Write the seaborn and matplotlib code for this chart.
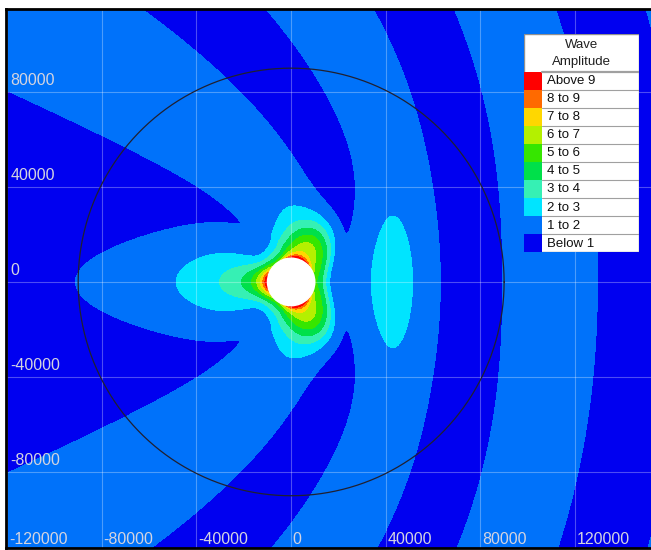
import numpy as np
import matplotlib.pyplot as plt
import seaborn as sns
from matplotlib.patches import Rectangle, Circle

sns.set_theme(style="white")
plt.rcParams["font.family"] = ["Liberation Sans", "DejaVu Sans"]

# amplitude classes, bottom to top
class_labels = ["Below 1", "1 to 2", "2 to 3", "3 to 4", "4 to 5",
                "5 to 6", "6 to 7", "7 to 8", "8 to 9", "Above 9"]
class_edges = [-100, 1, 2, 3, 4, 5, 6, 7, 8, 9, 1000]
class_colors = ["#0000f0", "#0072fa", "#00e4ff", "#36f0b4", "#00e04a",
                "#36e600", "#b4f000", "#ffd700", "#ff6a00", "#ff0000"]

x_ticks = [-120000, -80000, -40000, 0, 40000, 80000, 120000]
y_ticks = [-80000, -40000, 0, 40000, 80000]

island_radius = 10000
shoal_radius = 90000

# where the far-field band edges cross; index = edge number
edge_x = [-119800, -66500, -30900, -119800,
          -62200, -35100, 0, -45300,
          -9300, -1400,
          39800, 46000, 64400, 52000,
          72300, 77500, 85400,
          116100, 119600, 132800,
          143300]
edge_y = [85000, 59800, 40000, -86000,
          114500, 82100, 52600, -95000,
          110000, -95000,
          110000, -95000, 0, 60000,
          110000, -95000, 0,
          110000, -95000, 0,
          110000]
edge_k = [0, 0, 0, 0,
          1, 1, 1, 1,
          2, 2,
          3, 3, 3, 3,
          4, 4, 4,
          5, 5, 5,
          6]
band_contrast = 0.5
band_offset = 0.15

# bright spot in front of the island
spot_x, spot_amp, spot_wx, spot_wy = 37000, 1.0, 18000, 33000

# near field lobes: angle from +x axis (deg), strength, reach (km), sharpness, edge peak
lobe_angle = [0, 45, 90, 135, 180]
lobe_strength = [3.4, 4.6, 5.0, 1.2, 0.3]
lobe_reach = [5.2, 13.5, 12.5, 6.5, 3.0]
lobe_sharp = [2.5, 3.0, 1.6, 2.0, 2.0]
edge_peak = [0.5, 3.0, 4.0, 0.5, 0.0]

# long lobe behind the island
left_strength, left_reach = 4.26, 35200
left_spike, left_spike_reach = 5.5, 3500
left_width_near, left_width_far = 8500, 22500


def front_phase(x, y, b0, b1, b2, sq, sc):
    r = np.hypot(x, y)
    c = x / np.maximum(r, 1.0)
    h = (1 - c) / 2
    rho = r * (1 + sq * np.exp(-r / sc) * (1 + c) / 2)
    return rho * (c + b0 + b1 * h + b2 * h * h)


# fit the band phase to the edge crossings
ex, ey, ek = np.array(edge_x, float), np.array(edge_y, float), np.array(edge_k, float)
best = None
for b0 in np.linspace(0.2, 0.7, 11):
    for b1 in np.linspace(-0.3, 0.7, 11):
        for b2 in np.linspace(0.0, 1.0, 11):
            for sq in (0.3, 0.7, 1.1, 1.5, 2.0):
                for sc in (30000, 50000, 80000):
                    s = front_phase(ex, ey, b0, b1, b2, sq, sc) / 1e5
                    M = np.column_stack([s, s * s, np.ones_like(s)])
                    coef, *_ = np.linalg.lstsq(M, ek, rcond=None)
                    if coef[0] + 2 * coef[1] * 3.5 <= 0 or coef[0] - 0.6 * coef[1] <= 0:
                        continue
                    err = np.sum((M @ coef - ek) ** 2)
                    if best is None or err < best[0]:
                        best = (err, (b0, b1, b2, sq, sc), coef)
_, fit_par, fit_coef = best

xs = np.linspace(-123000, 155000, 834)
ys = np.linspace(-115000, 118000, 700)
X, Y = np.meshgrid(xs, ys)
R = np.hypot(X, Y)
C = X / np.maximum(R, 1.0)
phi = np.arccos(np.clip(C, -1, 1))
d = np.clip(R - island_radius, 0, None)

S = np.maximum(front_phase(X, Y, *fit_par) / 1e5, -0.3)
U = fit_coef[0] * S + fit_coef[1] * S * S + fit_coef[2]
# the dark band behind the island stays dark
U = np.where(U < 0, -0.5 * (1 - np.exp(np.minimum(U, 0) / 0.12)), U)
a = band_contrast * (1 - np.exp(-(R / 15000) ** 2))
F = 1 + a * (np.cos(np.pi * (U - 0.5)) + band_offset)
F += spot_amp * np.exp(-((X - spot_x) / spot_wx) ** 2 - (Y / spot_wy) ** 2)

# angular lobes from a cosine series through the anchors
basis = np.cos(np.outer(np.radians(lobe_angle), np.arange(5)))
ser = lambda vals: sum(ck * np.cos(k * phi)
                       for k, ck in enumerate(np.linalg.solve(basis, vals)))
B = np.clip(ser(lobe_strength), 0, None)
L = np.exp(ser(np.log(lobe_reach))) * 1000
p = np.clip(ser(lobe_sharp), 1.0, None)
E = np.clip(ser(edge_peak), 0, None)
F += B * np.exp(-(d / L) ** p) + E * np.exp(-d / 1500)

w = left_width_near + (left_width_far - left_width_near) * (1 - np.exp(-(d / 22000) ** 2))
side = 0.5 * (1 - np.tanh((X + 6000) / 3000))
F += (left_strength * np.exp(-d / left_reach)
      + left_spike * np.exp(-d / left_spike_reach)) * np.exp(-(Y / w) ** 2) * side

F = np.ma.masked_where(R < island_radius, F)

fig = plt.figure(figsize=(6.51, 5.5), dpi=100)
ax = fig.add_axes([6 / 651, 2 / 550, 646 / 651, 539 / 550])
ax.set_facecolor("white")
ax.contourf(X, Y, F, levels=class_edges, colors=class_colors)
ax.add_patch(Circle((0, 0), island_radius, color="white", zorder=3))

t = np.linspace(0, 2 * np.pi, 361)
sns.lineplot(x=shoal_radius * np.cos(t), y=shoal_radius * np.sin(t), sort=False,
             estimator=None, color="#202030", lw=0.9, ax=ax, zorder=4)

xlim = (-120500, 152500)
ylim = (-112000, 114900)
ax.set_xlim(xlim)
ax.set_ylim(ylim)
for xv in x_ticks:
    ax.axvline(xv, color="white", alpha=0.3, lw=0.8, zorder=2)
    ax.text(xv + 700, ylim[0] + 600, f"{xv}", ha="left", va="bottom",
            color="#d4d4e0", fontsize=11.5, zorder=5)
for yv in y_ticks:
    ax.axhline(yv, color="white", alpha=0.3, lw=0.8, zorder=2)
    ax.text(xlim[0] + 1800, yv + 1500, f"{yv}", ha="left", va="bottom",
            color="#d4d4e0", fontsize=11.5, zorder=5)
ax.set_xticks([])
ax.set_yticks([])
for s in ax.spines.values():
    s.set_color("black")
    s.set_linewidth(2)

# legend drawn as a small table, pixel units
lax = fig.add_axes([524 / 651, 1 - 252 / 550, 115 / 651, 218 / 550])
lax.set_xlim(524, 639)
lax.set_ylim(252, 34)
lax.axis("off")
lax.add_patch(Rectangle((524, 34), 115, 218, facecolor="white", edgecolor="#909090", lw=1))
lax.text(581.5, 45, "Wave", ha="center", va="center", fontsize=9.5, color="#202020")
lax.text(581.5, 62.5, "Amplitude", ha="center", va="center", fontsize=9.5, color="#202020")
row_h = (252 - 72) / len(class_labels)
for i, (lab, col) in enumerate(zip(class_labels[::-1], class_colors[::-1])):
    y0 = 72 + i * row_h
    lax.add_patch(Rectangle((524, y0), 18, row_h, facecolor=col, edgecolor="none"))
    lax.plot([542, 639], [y0, y0], color="#a0a0a0", lw=0.8 if i else 1.6)
    lax.text(547, y0 + row_h / 2 + 0.5, lab, ha="left", va="center", fontsize=9.5,
             color="#101010")

fig.savefig("out.png", dpi=100)
